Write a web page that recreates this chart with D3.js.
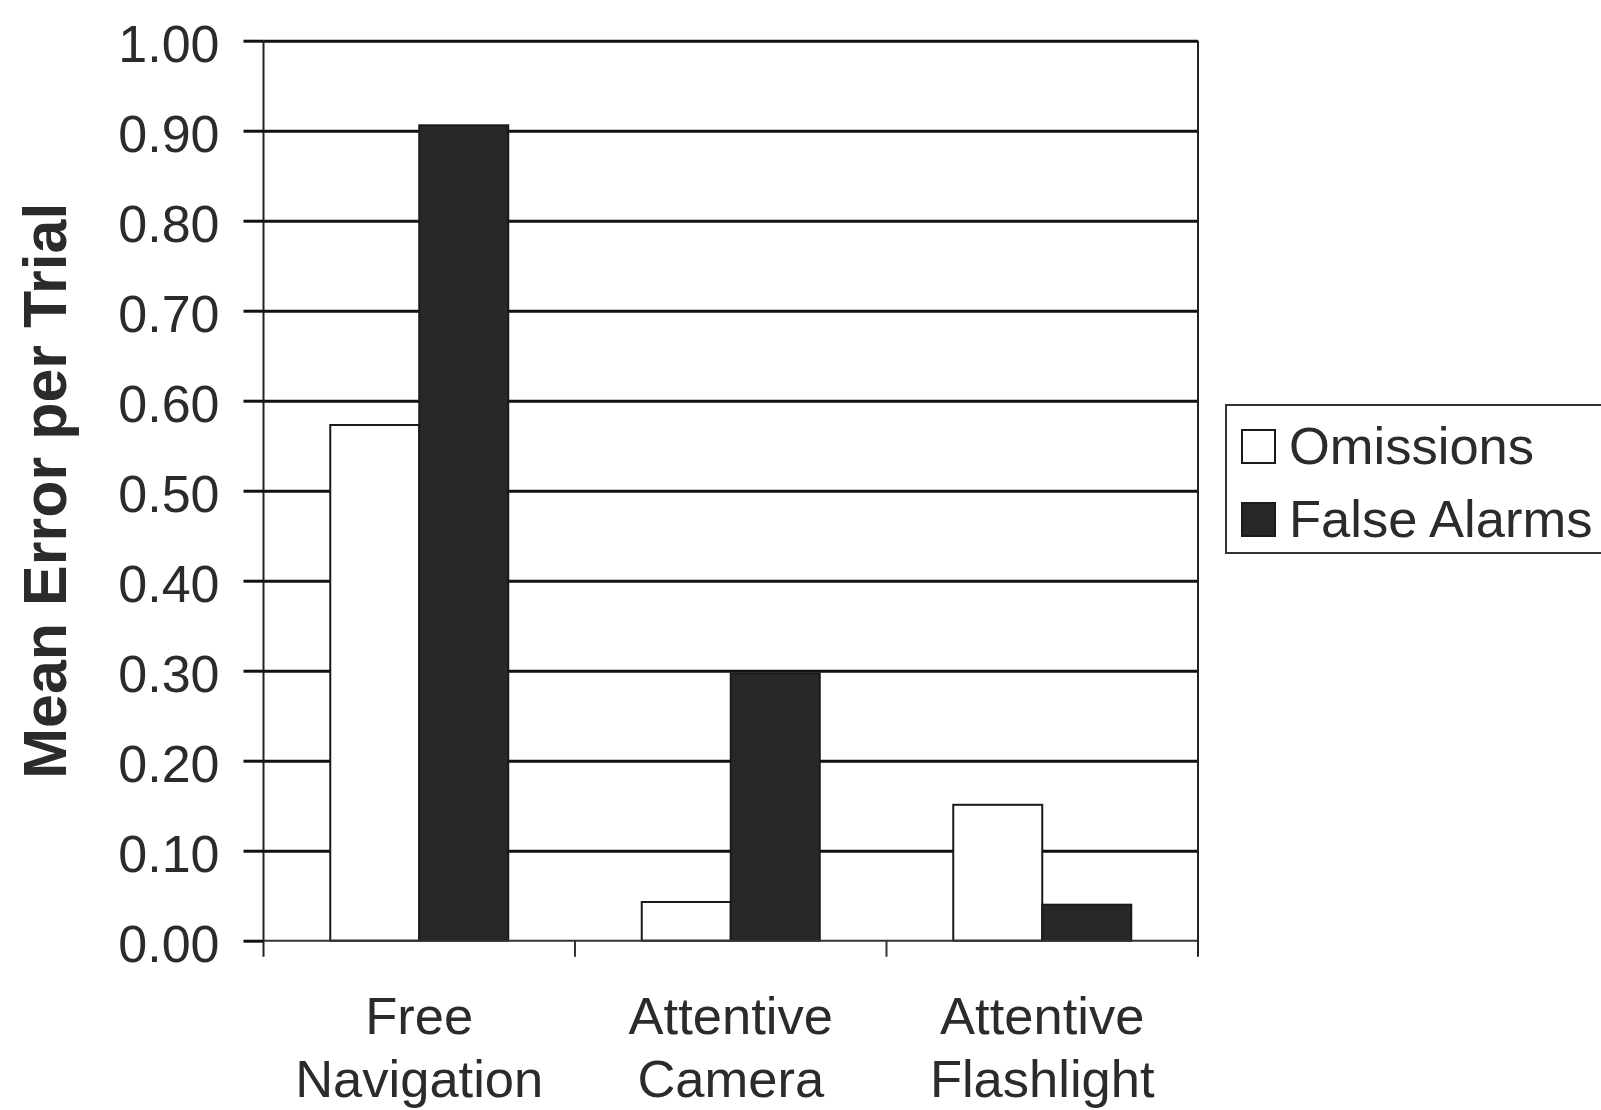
<!DOCTYPE html>
<html>
<head>
<meta charset="utf-8">
<script src="https://cdn.jsdelivr.net/npm/d3@7"></script>
<style>
  html, body { margin: 0; padding: 0; background: #ffffff; }
  svg { display: block; }
  text { font-family: "Liberation Sans", Arial, Helvetica, sans-serif; fill: #2b2b2b; }
</style>
</head>
<body>
<svg id="chart" width="1601" height="1110"></svg>
<script>
// ---- data ----
const categories = [["Free", "Navigation"], ["Attentive", "Camera"], ["Attentive", "Flashlight"]];
const seriesNames = ["Omissions", "False Alarms"];
const omissions = [0.573, 0.043, 0.151];
const falseAlarms = [0.906, 0.297, 0.040];
const yTicks = [0, 0.1, 0.2, 0.3, 0.4, 0.5, 0.6, 0.7, 0.8, 0.9, 1.0];
const yTickLabels = ["0.00", "0.10", "0.20", "0.30", "0.40", "0.50", "0.60", "0.70", "0.80", "0.90", "1.00"];
const yTitle = "Mean Error per Trial";

(function () {
// ---- layout ----
const svg = d3.select("#chart");
const pl = 263.5, pt = 40.7, pr = 1198, pb = 940.7;
const W = pr - pl;

const catKeys = categories.map(c => c.join(" "));
const x0 = d3.scaleBand().domain(catKeys).range([pl, pr]).padding(0);
const bw = x0.bandwidth();
const gap = bw * 1.5 / 3.5;
const x1 = d3.scaleBand().domain(seriesNames).range([gap / 2, bw - gap / 2]).padding(0);
const y = d3.scaleLinear().domain([0, 1]).range([pb, pt]);

const fills = { "Omissions": "#ffffff", "False Alarms": "#282828" };
const values = { "Omissions": omissions, "False Alarms": falseAlarms };

// gridlines
const grid = svg.append("g").attr("transform", `translate(${pl},0)`)
  .call(d3.axisLeft(y).tickValues(yTicks.slice(1)).tickSize(-W).tickFormat(""));
grid.select(".domain").remove();
grid.selectAll("line").attr("stroke", "#111").attr("stroke-width", 3);

// right border of plot area
svg.append("line").attr("x1", pr).attr("x2", pr).attr("y1", pt).attr("y2", pb + 16)
  .attr("stroke", "#222").attr("stroke-width", 2);

// bars
const barData = [];
catKeys.forEach((c, i) => seriesNames.forEach(s => barData.push({ c, s, v: values[s][i] })));
svg.append("g").selectAll("rect").data(barData).join("rect")
  .attr("x", d => x0(d.c) + x1(d.s))
  .attr("width", x1.bandwidth())
  .attr("y", d => y(d.v))
  .attr("height", d => y(0) - y(d.v))
  .attr("fill", d => fills[d.s])
  .attr("stroke", "#1a1a1a")
  .attr("stroke-width", 2);

// y axis (ticks + labels)
const yAxis = svg.append("g").attr("transform", `translate(${pl},0)`)
  .call(d3.axisLeft(y).tickValues(yTicks).tickSize(20).tickPadding(24)
    .tickFormat((d, i) => yTickLabels[i]));
yAxis.select(".domain").attr("stroke", "#222").attr("stroke-width", 2)
  .attr("d", `M0,${pt}V${pb + 16}`);
yAxis.selectAll(".tick line").attr("stroke", "#111").attr("stroke-width", 3);
yAxis.selectAll(".tick text").attr("font-size", 52).attr("fill", "#2b2b2b")
  .attr("font-family", "'Liberation Sans', Arial, sans-serif").attr("dy", "0.40em");

// x axis
const xAxis = svg.append("g").attr("transform", `translate(0,${pb})`)
  .call(d3.axisBottom(x0).tickSize(0).tickFormat(""));
xAxis.select(".domain").attr("stroke", "#333").attr("stroke-width", 2)
  .attr("d", `M${pl},0H${pr}`);
// category separator ticks
svg.append("g").selectAll("line").data(catKeys.slice(1)).join("line")
  .attr("x1", d => x0(d)).attr("x2", d => x0(d))
  .attr("y1", pb).attr("y2", pb + 16)
  .attr("stroke", "#333").attr("stroke-width", 2);

// category labels
const lbl = svg.append("g").selectAll("text").data(categories).join("text")
  .attr("x", (d, i) => x0(catKeys[i]) + bw / 2)
  .attr("y", 1034)
  .attr("text-anchor", "middle")
  .attr("font-size", 52.5);
lbl.selectAll("tspan").data(d => d).join("tspan")
  .attr("x", function () { return this.parentNode.getAttribute("x"); })
  .attr("dy", (d, i) => i === 0 ? 0 : 63)
  .text(d => d);

// y title
svg.append("text")
  .attr("transform", `translate(66,${(pt + pb) / 2}) rotate(-90)`)
  .attr("text-anchor", "middle")
  .attr("font-size", 61)
  .attr("font-weight", "bold")
  .text(yTitle);

// legend
const lg = svg.append("g");
lg.append("rect").attr("x", 1226).attr("y", 405).attr("width", 380).attr("height", 148)
  .attr("fill", "#fff").attr("stroke", "#333").attr("stroke-width", 2);
const items = lg.selectAll("g.item").data(seriesNames).join("g").attr("class", "item")
  .attr("transform", (d, i) => `translate(0,${i * 73})`);
items.append("rect").attr("x", 1242).attr("y", 430).attr("width", 33).attr("height", 33)
  .attr("fill", d => fills[d]).attr("stroke", "#1a1a1a").attr("stroke-width", 2);
items.append("text").attr("x", 1289).attr("y", 464).attr("font-size", 52.5).text(d => d);
})();
</script>
</body>
</html>
